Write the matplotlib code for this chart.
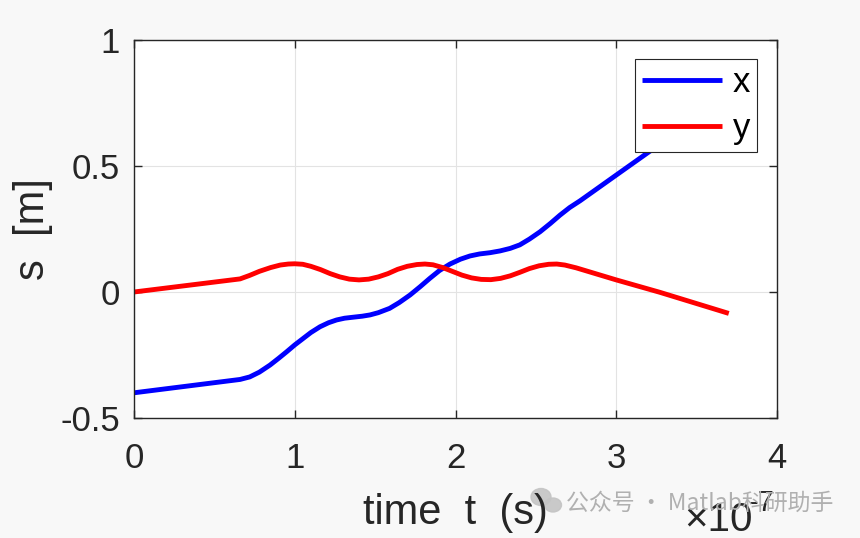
import numpy as np
import matplotlib
matplotlib.use('Agg')
import matplotlib.pyplot as plt
from matplotlib.patches import Ellipse

# 读取的曲线数据 (时间单位: 1e-7 s)
t_x = [0.0, 0.66, 0.72, 0.78, 0.846, 0.90, 0.95, 1.00, 1.053, 1.10, 1.157, 1.21, 1.26,
       1.31, 1.364, 1.42, 1.468, 1.52, 1.59, 1.65, 1.717, 1.78, 1.84, 1.90, 1.966, 2.03,
       2.09, 2.15, 2.215, 2.277, 2.34, 2.40, 2.46, 2.526, 2.59, 2.65, 2.71, 2.775, 3.0,
       3.19, 3.7]
s_x = [-0.40, -0.347, -0.337, -0.318, -0.29, -0.263, -0.237, -0.210, -0.184, -0.161, -0.138,
       -0.122, -0.111, -0.104, -0.100, -0.096, -0.091, -0.082, -0.065, -0.042, -0.012, 0.021,
       0.054, 0.085, 0.111, 0.130, 0.143, 0.151, 0.156, 0.163, 0.173, 0.187, 0.210, 0.239,
       0.272, 0.305, 0.335, 0.362, 0.464, 0.55, 0.78]

t_y = [0.0, 0.66, 0.72, 0.78, 0.85, 0.91, 0.96, 1.0, 1.05, 1.10, 1.16, 1.22, 1.28, 1.34,
       1.40, 1.46, 1.52, 1.58, 1.64, 1.70, 1.76, 1.81, 1.86, 1.92, 1.98, 2.04, 2.10, 2.16,
       2.22, 2.28, 2.34, 2.40, 2.46, 2.52, 2.58, 2.63, 2.68, 2.75, 3.0, 3.27, 3.7]
s_y = [0.0, 0.052, 0.066, 0.082, 0.097, 0.107, 0.111, 0.112, 0.110, 0.102, 0.089, 0.073,
       0.060, 0.051, 0.048, 0.051, 0.060, 0.073, 0.090, 0.102, 0.109, 0.111, 0.108, 0.097,
       0.082, 0.067, 0.056, 0.050, 0.049, 0.054, 0.064, 0.078, 0.093, 0.104, 0.110, 0.111,
       0.107, 0.096, 0.048, -0.001, -0.085]

xtick_vals = [0, 1, 2, 3, 4]
ytick_vals = [-0.5, 0, 0.5, 1]
ytick_labels = ['-0.5', '0', '0.5', '1']

plt.rcParams['font.family'] = ['Liberation Sans', 'DejaVu Sans']
dark = '#262626'

fig = plt.figure(figsize=(8.6, 5.38), dpi=100, facecolor='#f8f8f8')
ax = fig.add_axes([134 / 860, 1 - 418 / 538, 643 / 860, 378 / 538])
ax.set_facecolor('white')

tx = np.array(t_x) * 1e-7
ty = np.array(t_y) * 1e-7
ax.plot(tx, s_x, color='#0000ff', lw=3.5, label='x', solid_capstyle='butt')
ax.plot(ty, s_y, color='#ff0000', lw=3.5, label='y', solid_capstyle='butt')

ax.set_xlim(0, 4e-7)
ax.set_ylim(-0.5, 1)
ax.set_xticks(np.array(xtick_vals) * 1e-7)
ax.set_xticklabels([str(v) for v in xtick_vals])
ax.set_yticks(ytick_vals)
ax.set_yticklabels(ytick_labels)

ax.grid(True, color='#e3e3e3', lw=0.8)
ax.set_axisbelow(True)
ax.tick_params(direction='in', length=6, width=1, colors=dark, labelsize=25,
               top=True, right=True)
ax.tick_params(axis='x', pad=17)
ax.tick_params(axis='y', pad=10)
for sp in ax.spines.values():
    sp.set_color(dark)
    sp.set_linewidth(1)

# 坐标轴标签
fig.text(33 / 860, 1 - 229 / 538, 's  [m]', rotation=90, ha='center', va='center',
         fontsize=30, color=dark)
fig.text(455 / 860, 1 - 524 / 538, 'time  t  (s)', ha='center', va='baseline',
         fontsize=30, color=dark)
fig.text(684 / 860, 1 - 531 / 538, '×10', ha='left', va='baseline', fontsize=29, color=dark)
fig.text(749 / 860, 1 - 511 / 538, '-7', ha='left', va='baseline', fontsize=21, color=dark)

leg = ax.legend(loc='upper right', bbox_to_anchor=((757 - 134) / 643, (418 - 59) / 378),
                fontsize=25, frameon=True, fancybox=False, handlelength=2.3,
                borderpad=0.2, labelspacing=0.38, handletextpad=0.3, borderaxespad=0)
leg.get_frame().set_edgecolor(dark)
leg.get_frame().set_linewidth(0.8)
leg.get_frame().set_alpha(1)

# 水印
for cx, cy, w, h in [(541, 497, 20, 17), (553, 505, 17, 14)]:
    fig.patches.append(Ellipse((cx / 860, 1 - cy / 538), w / 860, h / 538,
                               transform=fig.transFigure, color='#c4c4c4', alpha=0.9))
fig.text(566 / 860, 1 - 503 / 538, '公众号 · Matlab科研助手', ha='left', va='center',
         fontsize=16.5, color='#b0b0b0', family=['Noto Sans CJK SC', 'DejaVu Sans'])

fig.savefig('out.png', dpi=100, facecolor=fig.get_facecolor())
